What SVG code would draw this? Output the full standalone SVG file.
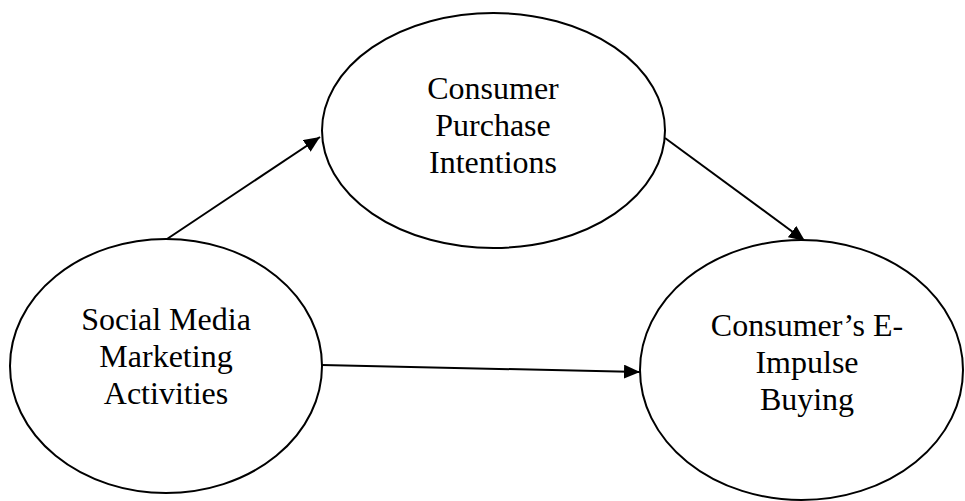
<svg xmlns="http://www.w3.org/2000/svg" width="965" height="501" viewBox="0 0 965 501">
  <style>
    .node ellipse { fill: #ffffff; stroke: #000000; stroke-width: 2; }
    .node text { font-family: "Liberation Serif", "Times New Roman", serif; font-size: 32px; fill: #000000; text-anchor: middle; }
    .edge { stroke: #000000; stroke-width: 2; fill: none; marker-end: url(#arrow); }
  </style>
  <defs>
    <marker id="arrow" markerUnits="userSpaceOnUse" markerWidth="16" markerHeight="14" refX="16" refY="7" orient="auto">
      <path d="M0,0 L16,7 L0,14 z" fill="#000000"/>
    </marker>
  </defs>
  <rect width="965" height="501" fill="#ffffff"/>
  <g id="connectors">
    <line class="edge" x1="167" y1="239" x2="320" y2="137"/>
    <line class="edge" x1="665" y1="138" x2="805" y2="241"/>
    <line class="edge" x1="322" y1="365" x2="640" y2="372"/>
  </g>
  <g id="node-smma" class="node">
    <ellipse cx="166" cy="366" rx="156" ry="127"/>
    <text x="166" y="330">Social Media</text>
    <text x="166" y="367">Marketing</text>
    <text x="166" y="403.5">Activities</text>
  </g>
  <g id="node-cpi" class="node">
    <ellipse cx="493.5" cy="130.5" rx="171.5" ry="117.5"/>
    <text x="493" y="99">Consumer</text>
    <text x="493" y="136">Purchase</text>
    <text x="493" y="173">Intentions</text>
  </g>
  <g id="node-eib" class="node">
    <ellipse cx="801.5" cy="370" rx="161.5" ry="130"/>
    <text x="807" y="336">Consumer’s E-</text>
    <text x="807" y="373">Impulse</text>
    <text x="807" y="410">Buying</text>
  </g>
</svg>
